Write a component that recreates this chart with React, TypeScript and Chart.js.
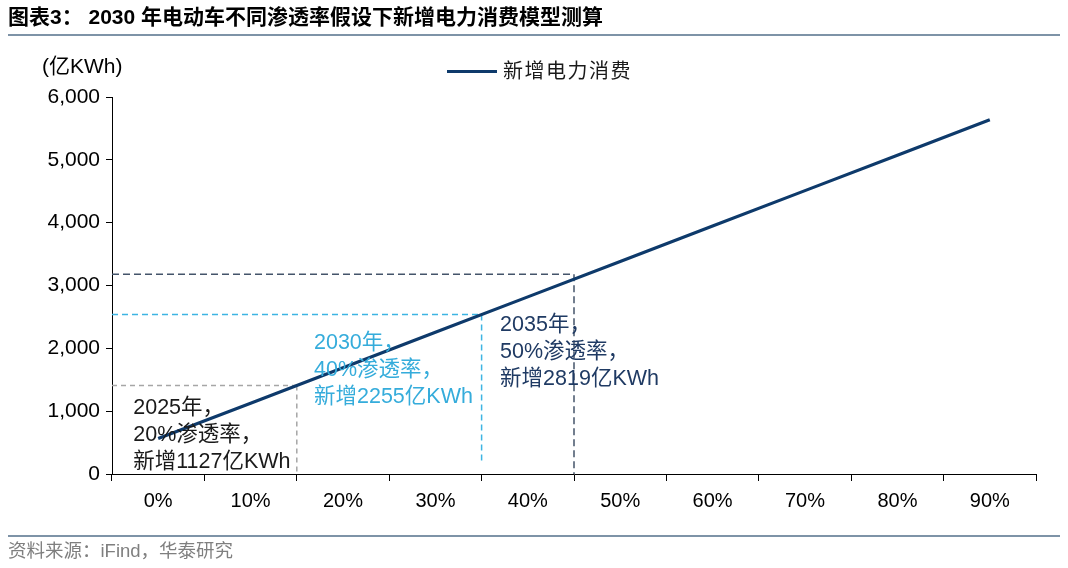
import React, { useEffect, useRef } from "react";
import { Chart, registerables } from "chart.js";

Chart.register(...registerables);

const categories = ["0%", "10%", "20%", "30%", "40%", "50%", "60%", "70%", "80%", "90%"];
const consumption = [564, 1127, 1691, 2255, 2819, 3382, 3946, 4510, 5073, 5637];
const yTicks = [0, 1000, 2000, 3000, 4000, 5000, 6000];

// guide lines (category-position, value level, lower end)
const guideAt = [1.5, 3.5, 4.5];
const guideLevel = [1409, 2537, 3180];
const guideFloor = [0, 175, 0];

const noteLines = [
  ["2025年，", "20%渗透率，", "新增1127亿KWh"],
  ["2030年，", "40%渗透率，", "新增2255亿KWh"],
  ["2035年，", "50%渗透率，", "新增2819亿KWh"],
];
const noteAtX = [-0.27, 1.686, 3.7];
const noteAtY = [1050, 2085, 2371];

const FONT = '"Liberation Sans", Arial, "Noto Sans CJK SC", sans-serif';
const guideColors = ["#A6A6A6", "#3DB4E2", "#44546A"];
const guideDash = [[5, 4], [6, 4], [7, 4]];
const noteColors = ["#1A1A1A", "#35ACDB", "#1F3A63"];

const guidesPlugin = {
  id: "guides",
  beforeDatasetsDraw(chart: any) {
    const { ctx, scales } = chart;
    const xs = scales.x;
    const ys = scales.y;
    ctx.save();
    ctx.lineWidth = 1.5;
    guideAt.forEach((gx, i) => {
      const px = xs.getPixelForValue(gx);
      const py = ys.getPixelForValue(guideLevel[i]);
      const pFloor = ys.getPixelForValue(guideFloor[i]);
      ctx.strokeStyle = guideColors[i];
      ctx.setLineDash(guideDash[i]);
      ctx.beginPath();
      ctx.moveTo(chart.chartArea.left, py);
      ctx.lineTo(px, py);
      ctx.moveTo(px, py);
      ctx.lineTo(px, pFloor);
      ctx.stroke();
    });
    ctx.restore();
  },
  afterDatasetsDraw(chart: any) {
    const { ctx, scales } = chart;
    ctx.save();
    ctx.font = `21.5px ${FONT}`;
    ctx.textBaseline = "middle";
    ctx.textAlign = "left";
    noteLines.forEach((lines, i) => {
      const px = scales.x.getPixelForValue(noteAtX[i]);
      const py = scales.y.getPixelForValue(noteAtY[i]);
      ctx.fillStyle = noteColors[i];
      lines.forEach((t, j) => ctx.fillText(t, px, py + j * 27));
    });
    ctx.restore();
  },
};

export default function App() {
  const ref = useRef<HTMLCanvasElement>(null);
  useEffect(() => {
    if (!ref.current) return;
    const chart = new Chart(ref.current, {
      type: "line",
      data: {
        labels: categories,
        datasets: [
          {
            label: "新增电力消费",
            data: consumption,
            borderColor: "#0E3A6B",
            borderWidth: 3.2,
            pointRadius: 0,
            tension: 0,
          },
        ],
      },
      options: {
        animation: false,
        responsive: false,
        devicePixelRatio: 1,
        layout: { padding: { top: 97, right: 32, bottom: 0, left: 0 } },
        plugins: { legend: { display: false }, tooltip: { enabled: false } },
        scales: {
          x: {
            type: "category",
            offset: true,
            grid: {
              offset: true,
              drawOnChartArea: false,
              drawTicks: true,
              tickLength: 7,
              color: "#000",
            },
            border: { display: true, color: "#000", width: 1 },
            ticks: { color: "#000", font: { family: FONT, size: 20 }, padding: 8, maxRotation: 0 },
            afterFit: (s: any) => {
              s.height = 94;
            },
          },
          y: {
            min: 0,
            max: 6000,
            afterBuildTicks: (s: any) => {
              s.ticks = yTicks.map((v) => ({ value: v }));
            },
            grid: { drawOnChartArea: false, drawTicks: true, tickLength: 6, color: "#000" },
            border: { display: true, color: "#000", width: 1 },
            ticks: {
              color: "#000",
              font: { family: FONT, size: 21 },
              padding: 6,
              callback: (v: any) => Number(v).toLocaleString("en-US"),
            },
            afterFit: (s: any) => {
              s.width = 112;
            },
          },
        },
      },
      plugins: [guidesPlugin],
    });
    return () => chart.destroy();
  }, []);

  return (
    <div style={{ position: "fixed", left: 0, top: 0, width: 1068, height: 568, background: "#fff", overflow: "hidden" }}>
      <canvas ref={ref} width={1068} height={568} style={{ position: "absolute", left: 0, top: 0 }} />
      <div
        style={{
          position: "absolute",
          left: 8,
          top: 4,
          fontFamily: FONT,
          fontWeight: "bold",
          fontSize: 21,
          color: "#000",
          whiteSpace: "nowrap",
          lineHeight: "26px",
        }}
      >
        图表3： 2030 年电动车不同渗透率假设下新增电力消费模型测算
      </div>
      <div style={{ position: "absolute", left: 8, top: 34, width: 1052, height: 2, background: "#7E93A7" }} />
      <div
        style={{ position: "absolute", left: 42, top: 53, fontFamily: FONT, fontSize: 21, color: "#000", whiteSpace: "nowrap", lineHeight: "26px" }}
      >
        (亿KWh)
      </div>
      <div style={{ position: "absolute", left: 447, top: 70, width: 50, height: 3, background: "#0E3A6B" }} />
      <div
        style={{ position: "absolute", left: 503, top: 58, fontFamily: FONT, fontSize: 20, letterSpacing: 1.5, color: "#1A1A1A", whiteSpace: "nowrap", lineHeight: "26px" }}
      >
        新增电力消费
      </div>
      <div style={{ position: "absolute", left: 8, top: 535, width: 1052, height: 2, background: "#7E93A7" }} />
      <div
        style={{ position: "absolute", left: 8, top: 540, fontFamily: FONT, fontSize: 18.5, color: "#7F7F7F", whiteSpace: "nowrap", lineHeight: "22px" }}
      >
        资料来源：iFind，华泰研究
      </div>
    </div>
  );
}
